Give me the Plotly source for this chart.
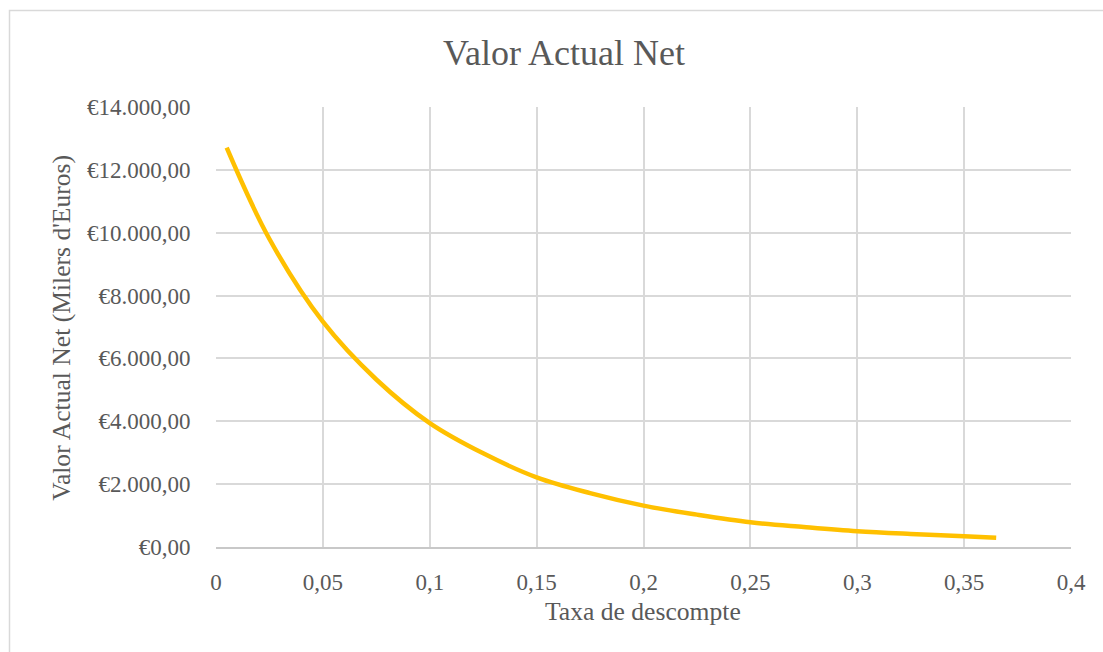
import plotly.graph_objects as go

# Discount rate and net present value (thousands of euros)
taxa = [0.005, 0.025, 0.05, 0.075, 0.1, 0.125, 0.15, 0.175, 0.2, 0.225,
        0.25, 0.275, 0.3, 0.325, 0.35, 0.365]
van = [12705, 9800, 7168, 5330, 3943, 2980, 2216, 1715, 1317, 1030,
       787, 635, 502, 415, 343, 292]

x_ticks = [0, 0.05, 0.1, 0.15, 0.2, 0.25, 0.3, 0.35, 0.4]
x_tick_text = ["0", "0,05", "0,1", "0,15", "0,2", "0,25", "0,3", "0,35", "0,4"]
y_ticks = [0, 2000, 4000, 6000, 8000, 10000, 12000, 14000]
y_tick_text = ["€0,00", "€2.000,00", "€4.000,00", "€6.000,00", "€8.000,00",
               "€10.000,00", "€12.000,00", "€14.000,00"]

FONT = "Liberation Serif"
TEXT = "#595959"
GRID = "#d9d9d9"

fig = go.Figure()
fig.add_trace(go.Scatter(
    x=taxa, y=van, mode="lines",
    line=dict(color="#FFC000", width=4.5, shape="spline", smoothing=1.0),
    hoverinfo="x+y", showlegend=False,
))

fig.update_layout(
    width=1103, height=652,
    margin=dict(l=216, r=32, t=107, b=104.5, autoexpand=False),
    paper_bgcolor="white", plot_bgcolor="white",
    font=dict(family=FONT, color=TEXT),
    title=dict(text="Valor Actual Net", x=564 / 1103, xanchor="center",
               y=1 - 52 / 652, yanchor="middle", yref="container",
               font=dict(size=36, family=FONT, color=TEXT)),
    xaxis=dict(range=[0, 0.4], tickvals=x_ticks, ticktext=x_tick_text,
               showgrid=True, gridcolor=GRID, gridwidth=1.5,
               zeroline=False, showline=True, linecolor="#c8c8c8", linewidth=1.5,
               ticks="outside", ticklen=14, tickcolor="rgba(0,0,0,0)",
               tickfont=dict(size=23, family=FONT, color=TEXT)),
    yaxis=dict(range=[0, 14000], tickvals=y_ticks, ticktext=y_tick_text,
               showgrid=True, gridcolor=GRID, gridwidth=1.5,
               zeroline=False, showline=False,
               ticks="outside", ticklen=20, tickcolor="rgba(0,0,0,0)",
               tickfont=dict(size=23, family=FONT, color=TEXT)),
    annotations=[
        dict(text="Valor Actual Net (Milers d'Euros)", textangle=-90,
             xref="paper", yref="paper", x=(62 - 216) / 855, y=(547.5 - 328) / 440.5,
             xanchor="center", yanchor="middle", showarrow=False,
             font=dict(size=25.6, family=FONT, color=TEXT)),
        dict(text="Taxa de descompte",
             xref="paper", yref="paper", x=(643 - 216) / 855, y=(547.5 - 612) / 440.5,
             xanchor="center", yanchor="middle", showarrow=False,
             font=dict(size=25.6, family=FONT, color=TEXT)),
    ],
    shapes=[
        # chart-area border
        dict(type="rect", xref="paper", yref="paper",
             x0=(9.5 - 216) / 855, x1=1.2, y0=-0.5, y1=(547.5 - 10.5) / 440.5,
             line=dict(color="#d9d9d9", width=1.5), fillcolor="rgba(0,0,0,0)",
             layer="below"),
    ],
)

fig.write_html("out.html")
